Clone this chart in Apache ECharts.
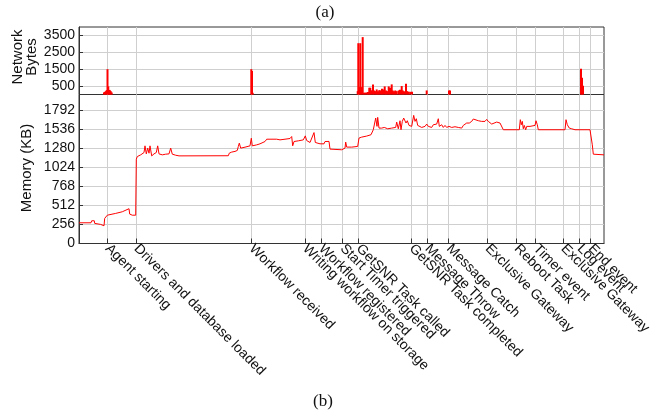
<!DOCTYPE html>
<html>
<head>
<meta charset="utf-8">
<script src="https://cdn.jsdelivr.net/npm/echarts@6/dist/echarts.min.js"></script>
<style>
  html, body { margin: 0; padding: 0; background: #fff; }
  #chart { width: 654px; height: 417px; }
</style>
</head>
<body>
<div id="chart"></div>
<script>
// event markers on the time axis
const eventNames = ['Agent starting', 'Drivers and database loaded', 'Workflow received',
  'Writing workflow on storage', 'Workflow registered', 'Start Timer triggered',
  'GetSNR Task called', 'GetSNR Task completed', 'Message Throw', 'Message Catch',
  'Exclusive Gateway', 'Reboot Task', 'Timer event', 'Exclusive Gateway', 'Log event', 'End event']
const eventTimes = [28.5, 57.3, 172.5, 226, 242, 263.5, 279.5, 332.5, 348.3, 369.7,
  408.5, 437.5, 456.5, 484.3, 500.5, 511.5]

// network bytes (spikes)
const netTime = [25, 25.7, 26.7, 27.7, 28.5, 29.3, 30, 30.7, 31.7, 32.7,
  172.3, 173, 173.7,
  278.7, 279.3, 280.3, 281.3, 282.3, 283.7, 285, 286.3, 287.7, 289, 290.3, 291.3, 292.3, 294, 295,
  296.7, 297.7, 299, 300.3, 301.7, 303, 304.3, 305.7, 307, 308.3, 309.7, 311, 312.7, 313.7,
  315, 316.3, 317.7, 319.7, 321, 322.7, 323.7, 325, 327, 328.3, 329.7, 331.3, 333,
  347.7, 370, 371,
  502, 503, 504]
const netBytes = [120, 150, 200, 260, 1500, 480, 250, 270, 200, 120,
  1500, 1400, 100,
  200, 3040, 440, 3040, 440, 3400, 100, 110, 120, 150, 400, 400, 250, 600, 240,
  200, 300, 200, 260, 240, 340, 300, 480, 240, 200, 480, 400, 600, 240,
  200, 240, 200, 240, 280, 500, 240, 200, 640, 200, 160, 160, 160,
  240, 240, 240,
  1520, 1000, 520]

// memory usage (KB)
const memTime = [0, 12, 12.7, 15.3, 15.7, 16.7, 21.7, 22, 25, 25.7, 28.3, 30, 36.7, 43.3, 50, 50.7, 53.3, 56.7,
  57.3, 58.3, 61.7, 65, 66, 67.3, 68.7, 70, 71, 72.7, 75, 77.3, 78.7, 80, 83.3, 86.7, 90, 91.7, 93.3, 96.7, 100,
  149.3, 150.3, 152.7, 156, 158.3, 159.3, 160.3, 161.7, 166, 171, 172.3, 173.3, 177.7, 179.3, 181, 182.7, 186,
  187.7, 189.3, 191, 197.7, 201, 206, 211, 212.7, 213.7, 215, 219.3, 224.3, 226.3, 227.7, 231, 232.7, 235,
  236.3, 237.7, 241, 245, 246, 250,
  251, 252.7, 262.7, 264.3, 266, 266.7, 267.7, 272.7, 278.7, 280, 282.7, 287.7, 292, 294.3, 296.7, 298, 298.7,
  300, 302.7, 303.3, 305.3, 308.7, 312.7, 314.3, 316.7, 317.7, 319.3, 321, 322, 323.3, 324.7, 326, 327, 328.3,
  330, 331.3, 332.7, 334.7, 336, 337.3, 338.7, 340.3, 342.7, 346, 347.7, 349.3, 351, 352.7, 354.3, 356, 357.7,
  359.3, 360.3, 362.7, 364.3, 366, 367.7, 370, 372.7, 376, 379.3,
  381, 382.7, 384.3, 386, 387.7, 390.3, 392.7, 394.3, 396, 399.3, 402.7, 406, 407.7, 409.3, 411, 412.7, 414.3,
  417.7, 421, 423, 424.3, 440.3, 441.3, 442.3, 443.3, 444.3, 445.3, 446.7, 447.7, 451, 456, 457, 458.3, 459.3,
  486, 487, 488.3, 490.3, 492.7, 496, 511, 512, 513.3, 514.3, 525]
const memKB = [278, 278, 305, 305, 270, 256, 256, 238, 238, 337, 380, 385, 404, 426, 467, 395, 380, 380,
  1131, 1167, 1190, 1221, 1311, 1203, 1280, 1212, 1311, 1176, 1203, 1221, 1311, 1203, 1190, 1199, 1203, 1280, 1199, 1185, 1176,
  1178, 1213, 1227, 1236, 1249, 1302, 1347, 1280, 1293, 1311, 1413, 1311, 1324, 1347, 1338, 1356, 1369,
  1400, 1413, 1400, 1400, 1391, 1400, 1409, 1436, 1311, 1369, 1378, 1391, 1445, 1382, 1356, 1369, 1489,
  1356, 1347, 1338, 1338, 1369, 1370,
  1267, 1258, 1258, 1280, 1280, 1361, 1294, 1294, 1303, 1415, 1428, 1442, 1460, 1527, 1684, 1572, 1693,
  1549, 1549, 1527, 1558, 1540, 1549, 1572, 1558, 1630, 1540, 1648, 1527, 1639, 1684, 1693, 1617, 1648,
  1585, 1594, 1572, 1720, 1639, 1675, 1585, 1594, 1558, 1572, 1603, 1572, 1585, 1558, 1594, 1572, 1603,
  1675, 1572, 1594, 1558, 1585, 1558, 1572, 1558, 1567, 1558,
  1572, 1549, 1585, 1603, 1617, 1617, 1639, 1671, 1662, 1648, 1639, 1639, 1666, 1639, 1630, 1603, 1617,
  1630, 1617, 1594, 1527, 1527, 1662, 1594, 1639, 1540, 1585, 1527, 1572, 1572, 1585, 1648, 1594, 1527,
  1527, 1662, 1594, 1549, 1540, 1527, 1527, 1520, 1325, 1199, 1190]

const netTicks = [500, 1500, 2500, 3500]
const memTicks = [0, 256, 512, 768, 1024, 1280, 1536, 1792]

const chart = echarts.init(document.getElementById('chart'))

const font = '"Liberation Sans", Arial, sans-serif'
const gridGray = '#cfcfcf'
const frame = '#333'

// labels close together get hidden by the axis, so split them over two axes
const evenTimes = eventTimes.filter((t, i) => i % 2 === 0)
const oddTimes = eventTimes.filter((t, i) => i % 2 === 1)
const eventLabel = v => eventNames[eventTimes.indexOf(v)]

function labelAxis(values, visible) {
  return {
    gridIndex: 1, type: 'value', min: 0, max: 525, position: 'bottom', offset: 0,
    axisLine: { show: visible, lineStyle: { color: frame } },
    axisTick: { show: visible, inside: true, length: 5, customValues: eventTimes, lineStyle: { color: frame } },
    axisLabel: {
      customValues: values, rotate: -45, margin: 3, fontSize: 14, color: '#111',
      formatter: eventLabel
    },
    splitLine: { show: visible, lineStyle: { color: gridGray } }
  }
}

const option = {
  animation: false,
  textStyle: { fontFamily: font },
  grid: [
    { left: 79, right: 50, top: 27, height: 67.5, show: true, borderColor: frame, borderWidth: 1 },
    { left: 79, right: 50, top: 94.5, height: 149, show: true, borderColor: frame, borderWidth: 1 }
  ],
  xAxis: [
    {
      gridIndex: 0, type: 'value', min: 0, max: 525,
      axisLine: { show: false },
      axisTick: { show: false, customValues: eventTimes },
      axisLabel: { show: false },
      splitLine: { show: true, lineStyle: { color: gridGray } }
    },
    labelAxis(evenTimes, true),
    labelAxis(oddTimes, false)
  ],
  yAxis: [
    {
      gridIndex: 0, type: 'value', min: 0, max: 4000,
      axisLine: { show: true, lineStyle: { color: frame } },
      axisTick: { show: true, inside: true, length: 4, customValues: netTicks, lineStyle: { color: frame } },
      axisLabel: { customValues: netTicks, fontSize: 14, color: '#111', margin: 4, formatter: v => String(v) },
      splitLine: { show: true, lineStyle: { color: gridGray } }
    },
    {
      gridIndex: 1, type: 'value', min: 0, max: 2000,
      axisLine: { show: true, lineStyle: { color: frame } },
      axisTick: { show: true, inside: true, length: 4, customValues: memTicks, lineStyle: { color: frame } },
      axisLabel: { customValues: memTicks, fontSize: 14, color: '#111', margin: 4, formatter: v => String(v) },
      splitLine: { show: true, lineStyle: { color: gridGray } }
    }
  ],
  series: [
    {
      type: 'bar', xAxisIndex: 0, yAxisIndex: 0,
      barWidth: 2, itemStyle: { color: '#f00' },
      data: netTime.map((t, i) => [t, netBytes[i]])
    },
    {
      type: 'line', xAxisIndex: 1, yAxisIndex: 1,
      showSymbol: false, lineStyle: { color: '#f00', width: 1 },
      data: memTime.map((t, i) => [t, memKB[i]])
    }
  ],
  graphic: [
    { type: 'text', x: 325, y: 13, style: { text: '(a)', fontSize: 17, fontFamily: '"Liberation Serif", serif', fill: '#111', align: 'center', verticalAlign: 'middle' } },
    { type: 'text', x: 323, y: 402, style: { text: '(b)', fontSize: 17, fontFamily: '"Liberation Serif", serif', fill: '#111', align: 'center', verticalAlign: 'middle' } },
    { type: 'text', x: 25, y: 57, rotation: Math.PI / 2, style: { text: 'Network\nBytes', fontSize: 15, lineHeight: 14, fontFamily: font, fill: '#111', align: 'center', verticalAlign: 'middle' } },
    { type: 'text', x: 26.5, y: 168, rotation: Math.PI / 2, style: { text: 'Memory (KB)', fontSize: 15, fontFamily: font, fill: '#111', align: 'center', verticalAlign: 'middle' } }
  ]
}

chart.setOption(option)
</script>
</body>
</html>
